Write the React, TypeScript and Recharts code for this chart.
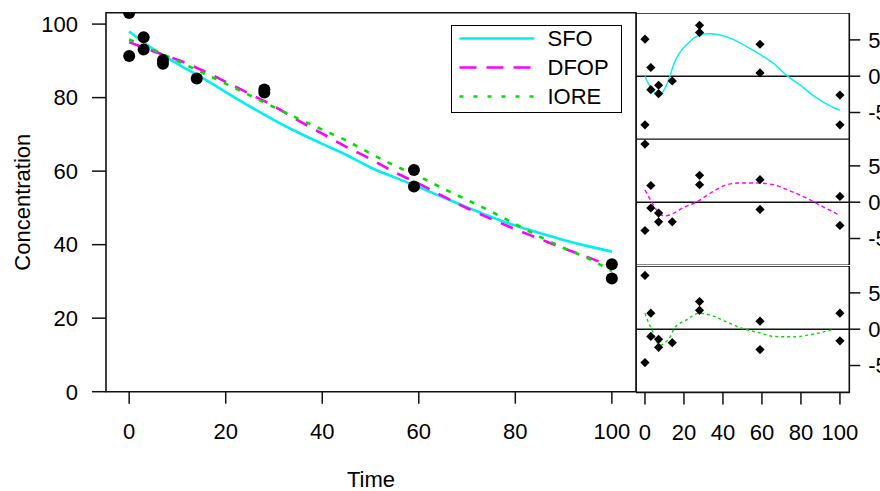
import { ComposedChart, Line, Scatter, XAxis, YAxis, ReferenceArea, ReferenceLine, Legend } from "recharts"

const FONT = '"Liberation Sans", Arial, Helvetica, sans-serif'
const INK = "#111"

// observations
const obsTime = [0, 0, 3, 3, 7, 7, 14, 28, 28, 59, 59, 100, 100]
const obsConc = [103.0, 91.3, 96.4, 93.1, 90.2, 89.2, 85.2, 82.2, 81.4, 60.3, 55.8, 34.7, 30.8]

// fitted model curves
const fitTime = [0, 5, 10, 15, 20, 25, 30, 35, 40, 45, 50, 55, 60, 65, 70, 75, 80, 85, 90, 95, 100]
const sfoFit = [98.0, 93.2, 89.2, 85.5, 81.5, 77.6, 73.9, 70.5, 67.4, 64.4, 61.0, 58.3, 55.7, 52.9, 50.2, 47.5, 45.2, 43.2, 41.3, 39.6, 38.1]
const dfopFit = [95.1, 92.6, 90.3, 87.5, 84.3, 81.0, 77.7, 73.8, 70.2, 66.6, 63.3, 59.7, 56.6, 53.2, 49.9, 47.0, 44.2, 41.6, 39.0, 36.6, 34.0]
const ioreFit = [95.8, 93.0, 90.0, 86.9, 83.8, 80.6, 77.4, 74.3, 71.3, 68.3, 64.8, 61.5, 58.6, 55.3, 52.2, 49.0, 45.6, 42.2, 39.1, 36.3, 32.8]

// residuals, same order as obsTime
const sfoResid = [5.1, -6.7, 1.2, -1.85, -1.25, -2.4, -0.65, 7.0, 6.0, 4.4, 0.45, -2.6, -6.7]
const dfopResid = [8.0, -3.9, 2.3, -0.8, -1.5, -2.7, -2.7, 3.7, 2.4, 3.1, -1.0, 0.8, -3.2]
const ioreResid = [7.4, -4.6, 2.2, -1.0, -1.4, -2.5, -1.85, 3.8, 2.6, 1.1, -2.8, 2.2, -1.6]

// smoothed residual trends
const sfoSmoothTime = [0, 3, 7, 10, 12, 15, 18, 22, 26, 30, 34, 38, 44, 52, 59, 66, 73, 80, 86, 93, 100]
const sfoSmooth = [0, -1.6, -2.5, -1.8, -0.6, 1.8, 3.3, 4.5, 5.4, 5.8, 5.85, 5.7, 5.2, 4.1, 3.0, 1.75, 0.05, -1.3, -2.6, -3.8, -4.7]
const dfopSmoothTime = [0, 3, 6, 10, 14, 20, 27, 33, 42, 49, 57, 66, 74, 83, 90, 100]
const dfopSmooth = [1.7, 0.2, -1.1, -1.9, -1.6, -0.7, 0.1, 1.15, 2.4, 2.65, 2.65, 2.4, 1.6, 0.55, -0.45, -1.8]
const ioreSmoothTime = [0, 2, 4, 6, 8, 10, 13, 15, 21, 28, 35, 42, 50, 59, 66, 76, 86, 97]
const ioreSmooth = [2.2, 0.8, -0.35, -1.75, -2.2, -1.9, -1.0, 0.1, 1.25, 2.2, 1.8, 1.0, 0.1, -0.5, -1.0, -1.05, -0.7, 0]

const seriesNames = ["SFO", "DFOP", "IORE"]
const seriesColors = ["#00f0f0", "#ff00ff", "#00e000"]
const seriesDash = [undefined, "13 10", "5 8"]
const legendDash = [undefined, "17 10", "4 10"]
const residDash = [undefined, "4 3", "3 3"]

const timeTicks = [0, 20, 40, 60, 80, 100]
const concTicks = [0, 20, 40, 60, 80, 100]
const residTicks = [-5, 0, 5]

const zip = (ts: number[], vs: number[]) => ts.map((t, i) => ({ t, v: vs[i] }))

const obsData = zip(obsTime, obsConc)
const fits = [sfoFit, dfopFit, ioreFit].map((f) => zip(fitTime, f))
const resids = [sfoResid, dfopResid, ioreResid].map((r) => zip(obsTime, r))
const smooths = [
  zip(sfoSmoothTime, sfoSmooth),
  zip(dfopSmoothTime, dfopSmooth),
  zip(ioreSmoothTime, ioreSmooth),
]

const MAIN_X: [number, number] = [-4.8, 105]
const MAIN_Y: [number, number] = [0, 103.1]
const RES_X: [number, number] = [-4.6, 104.8]
const RES_Y: [number, number] = [-8.7, 8.7]

const tickStyle = { fontSize: 22, fill: "#000", fontFamily: FONT }
const tickLine = { stroke: INK, strokeWidth: 1.5 }

function LegendBox() {
  return (
    <div
      style={{
        width: 171,
        height: 88,
        border: "1.5px solid #000",
        boxSizing: "border-box",
        background: "#fff",
      }}
    >
      <svg width={168} height={85} style={{ display: "block" }}>
        {seriesNames.map((name, i) => {
          const y = 12.5 + 29 * i
          return (
            <g key={name}>
              <line x1={7.5} x2={82.5} y1={y} y2={y} stroke={seriesColors[i]} strokeWidth={2.6} strokeDasharray={legendDash[i]} />
              <text x={95.5} y={y + 7.8} fontSize={22} fontFamily={FONT} fill="#000">
                {name}
              </text>
            </g>
          )
        })}
      </svg>
    </div>
  )
}

function ConcLabel(props: any) {
  const vb = props.viewBox || { x: 0, y: 0, width: 0, height: 0 }
  const cx = vb.x + 22.5
  const cy = vb.y + vb.height / 2
  return (
    <text
      x={cx}
      y={cy}
      transform={`rotate(-90 ${cx} ${cy})`}
      textAnchor="middle"
      dy="0.355em"
      fontSize={22}
      fontFamily={FONT}
      fill="#000"
    >
      Concentration
    </text>
  )
}

// small filled diamond like R's pch 16 at low resolution
const residDot = (p: any) => {
  const s = 4.6
  return <polygon points={`${p.cx},${p.cy - s} ${p.cx + s},${p.cy} ${p.cx},${p.cy + s} ${p.cx - s},${p.cy}`} fill="#000" />
}

function MainChart() {
  return (
    <ComposedChart width={640} height={491} margin={{ top: 12.7, right: 4, bottom: 0, left: 0 }}>
      <XAxis
        type="number"
        dataKey="t"
        domain={MAIN_X}
        allowDataOverflow
        ticks={timeTicks}
        interval={0}
        height={99.3}
        axisLine={false}
        tickLine={tickLine}
        tickSize={12}
        tickMargin={20}
        tick={tickStyle}
        label={{ value: "Time", position: "insideBottom", offset: 4, fontSize: 22, fill: "#000", fontFamily: FONT }}
      />
      <YAxis
        type="number"
        domain={MAIN_Y}
        allowDataOverflow
        ticks={concTicks}
        interval={0}
        width={106}
        axisLine={false}
        tickLine={tickLine}
        tickSize={14}
        tickMargin={14}
        tick={tickStyle}
        label={{ content: ConcLabel }}
      />
      <ReferenceArea x1={MAIN_X[0]} x2={MAIN_X[1]} y1={MAIN_Y[0]} y2={MAIN_Y[1]} fill="none" stroke={INK} strokeWidth={1.6} />
      <Scatter
        data={obsData}
        dataKey="v"
        legendType="none"
        isAnimationActive={false}
        shape={(p: any) => <circle cx={p.cx} cy={p.cy} r={6} fill="#000" />}
      />
      {fits.map((d, i) => (
        <Line
          key={seriesNames[i]}
          data={d}
          dataKey="v"
          name={seriesNames[i]}
          type="monotone"
          stroke={seriesColors[i]}
          strokeWidth={2.6}
          strokeDasharray={seriesDash[i]}
          dot={false}
          activeDot={false}
          isAnimationActive={false}
        />
      ))}
      <Legend
        layout="horizontal"
        verticalAlign="middle"
        align="center"
        wrapperStyle={{ left: 451, top: 25, width: 171, height: 88 }}
        content={() => <LegendBox />}
      />
    </ComposedChart>
  )
}

function ResidPanel({ idx, top, height, showX }: { idx: number; top: number; height: number; showX: boolean }) {
  return (
    <div style={{ position: "absolute", left: 636, top, width: 244, height }}>
      <ComposedChart width={244} height={height} margin={{ top: 0, right: 0, bottom: 0, left: 0 }}>
        <XAxis
          type="number"
          dataKey="t"
          domain={RES_X}
          allowDataOverflow
          ticks={timeTicks}
          interval={0}
          hide={!showX}
          height={showX ? height - 126.4 : 0}
          axisLine={false}
          tickLine={tickLine}
          tickSize={12}
          tickMargin={20}
          tick={tickStyle}
        />
        <YAxis
          type="number"
          orientation="right"
          domain={RES_Y}
          allowDataOverflow
          ticks={residTicks}
          interval={0}
          width={30.7}
          axisLine={false}
          tickLine={tickLine}
          tickSize={11}
          tickMargin={8}
          tick={tickStyle}
        />
        <ReferenceArea x1={RES_X[0]} x2={RES_X[1]} y1={RES_Y[0]} y2={RES_Y[1]} fill="none" stroke={INK} strokeWidth={1.6} />
        <ReferenceLine y={0} stroke={INK} strokeWidth={1.5} />
        <Scatter data={resids[idx]} dataKey="v" isAnimationActive={false} shape={residDot} />
        <Line
          data={smooths[idx]}
          dataKey="v"
          type="monotone"
          stroke={seriesColors[idx]}
          strokeWidth={1.4}
          strokeDasharray={residDash[idx]}
          dot={false}
          activeDot={false}
          isAnimationActive={false}
        />
      </ComposedChart>
    </div>
  )
}

export default function App() {
  return (
    <div style={{ position: "absolute", left: 0, top: 0, width: 880, height: 491, background: "#fff", overflow: "hidden" }}>
      <div style={{ position: "absolute", left: 0, top: 0 }}>
        <MainChart />
      </div>
      <ResidPanel idx={0} top={12.7} height={126.4} showX={false} />
      <ResidPanel idx={1} top={139.1} height={126.4} showX={false} />
      <ResidPanel idx={2} top={265.5} height={225.5} showX={true} />
    </div>
  )
}
